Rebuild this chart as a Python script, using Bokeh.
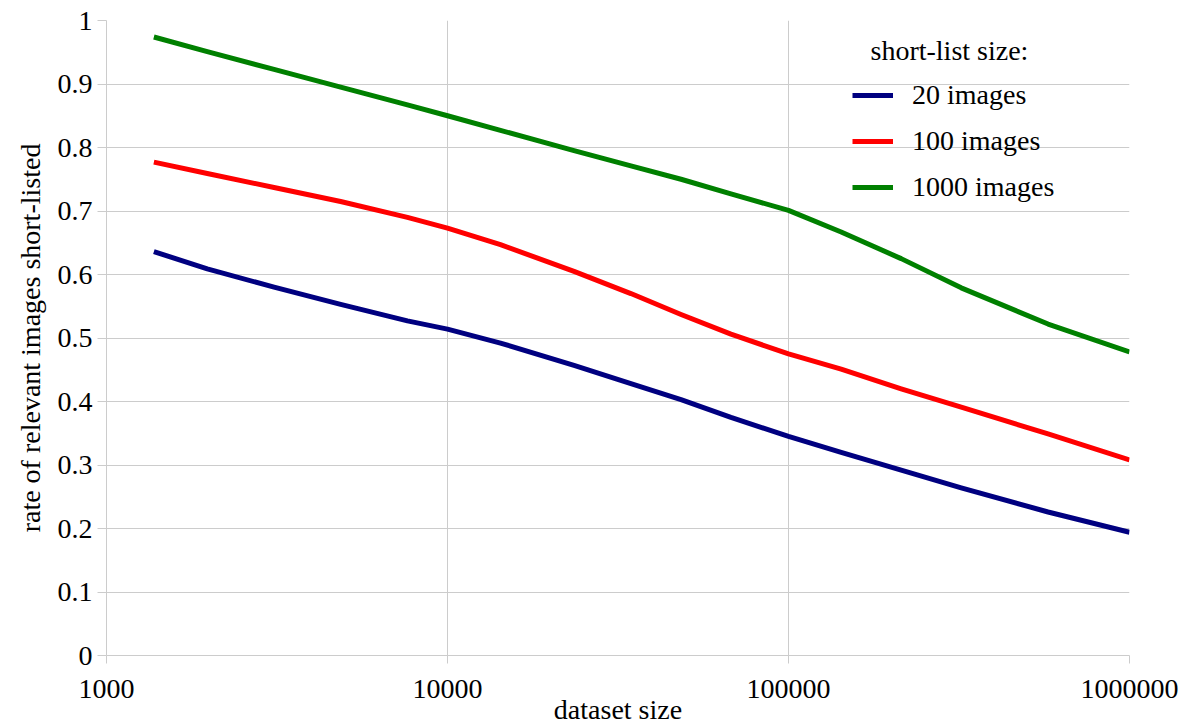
from bokeh.plotting import figure
from bokeh.models import (FixedTicker, CustomJSTickFormatter, Legend, LegendItem,
                          Label, Range1d, ColumnDataSource)
from bokeh.embed import file_html
from bokeh.resources import INLINE

# ---- data ----
dataset_size = [1377, 1975, 3100, 4860, 7630, 10000, 14300, 23500, 34500, 48400,
                67800, 100000, 142700, 214000, 321000, 577000, 1000000]
rate_20 = [0.636, 0.609, 0.580, 0.553, 0.527, 0.514, 0.492, 0.457, 0.428, 0.403,
           0.375, 0.345, 0.320, 0.292, 0.264, 0.226, 0.194]
rate_100 = [0.777, 0.759, 0.737, 0.715, 0.690, 0.673, 0.647, 0.605, 0.570, 0.537,
            0.506, 0.475, 0.451, 0.420, 0.391, 0.349, 0.308]
rate_1000 = [0.974, 0.951, 0.923, 0.895, 0.867, 0.850, 0.827, 0.795, 0.771, 0.750,
             0.727, 0.701, 0.667, 0.625, 0.579, 0.522, 0.478]
series_labels = ["20 images", "100 images", "1000 images"]
series_colors = ["#000080", "#ff0000", "#008000"]
x_ticks = [1000, 10000, 100000, 1000000]
y_ticks = [0, 0.1, 0.2, 0.3, 0.4, 0.5, 0.6, 0.7, 0.8, 0.9, 1]
legend_title = "short-list size:"
x_label = "dataset size"
y_label = "rate of relevant images short-listed"

FONT = "Liberation Serif"
FS = "28px"
GRID = "#cccccc"

p = figure(width=1191, height=727, x_axis_type="log",
           x_range=Range1d(1000, 1000000), y_range=Range1d(0, 1),
           output_backend="svg", toolbar_location=None,
           min_border_left=106, min_border_right=62,
           min_border_top=20, min_border_bottom=72)
p.outline_line_color = None
p.background_fill_color = "white"
p.border_fill_color = "white"

src = ColumnDataSource(dict(x=dataset_size, r20=rate_20, r100=rate_100, r1000=rate_1000))
renderers = []
for col, color in zip(["r20", "r100", "r1000"], series_colors):
    r = p.line("x", col, source=src, line_color=color, line_width=5,
               line_join="round")
    renderers.append(r)

# axes
p.xaxis.ticker = FixedTicker(ticks=x_ticks, minor_ticks=[])
p.xaxis.formatter = CustomJSTickFormatter(code="return tick.toFixed(0)")
p.yaxis.ticker = FixedTicker(ticks=y_ticks, minor_ticks=[])
p.yaxis.formatter = CustomJSTickFormatter(code="return String(Number(tick.toFixed(1)))")

for ax in (p.xaxis[0], p.yaxis[0]):
    ax.axis_line_color = GRID
    ax.major_tick_line_color = GRID
    ax.minor_tick_line_color = None
    ax.major_tick_in = 0
    ax.major_label_text_font = FONT
    ax.major_label_text_font_size = FS
    ax.major_label_text_color = "black"
    ax.axis_label_text_font = FONT
    ax.axis_label_text_font_size = FS
    ax.axis_label_text_font_style = "normal"
    ax.axis_label_text_color = "black"

p.xaxis.axis_label = x_label
p.xaxis.major_tick_out = 8
p.xaxis.major_label_standoff = 16
p.xaxis.axis_label_standoff = -7

p.yaxis.axis_label = y_label
p.yaxis.major_tick_out = 9
p.yaxis.major_label_standoff = 5
p.yaxis.axis_label_standoff = 9

p.xgrid.grid_line_color = GRID
p.ygrid.grid_line_color = GRID
p.xgrid.ticker = FixedTicker(ticks=x_ticks)
p.ygrid.ticker = FixedTicker(ticks=y_ticks)

legend = Legend(items=[LegendItem(label=l, renderers=[r]) for l, r in zip(series_labels, renderers)],
                location=(746, 452), padding=0, margin=0,
                border_line_color=None, background_fill_alpha=0,
                label_text_font=FONT, label_text_font_size=FS,
                label_text_color="black",
                glyph_width=41, glyph_height=30, label_height=30,
                label_standoff=19, spacing=14)
p.add_layout(legend)

p.add_layout(Label(x=764, y=605, x_units="screen", y_units="screen",
                   text=legend_title, text_font=FONT, text_font_size=FS,
                   text_color="black", text_baseline="middle"))

open("out.html", "w").write(file_html(p, INLINE))
